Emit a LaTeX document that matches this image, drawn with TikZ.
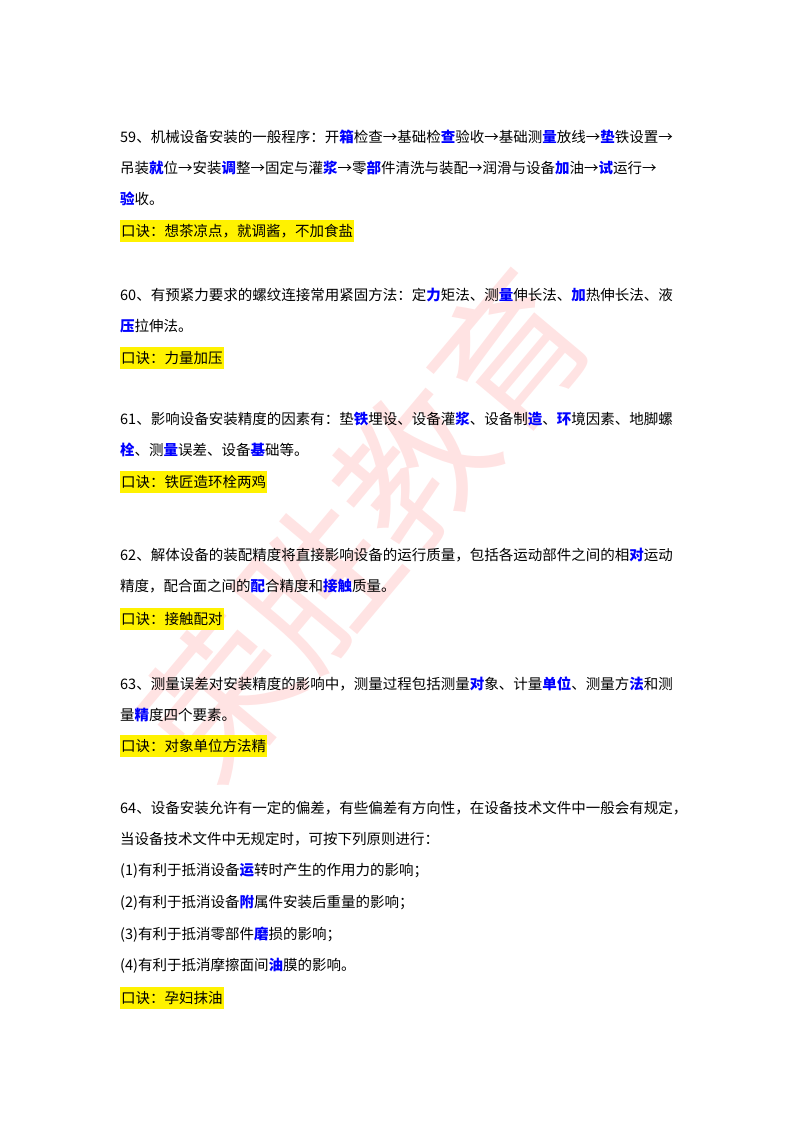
\documentclass[tikz,border=0pt]{standalone}
\usepackage{fontspec}
\setmainfont{Noto Sans CJK SC}
\newcommand{\kw}[1]{\textcolor{blue}{\bfseries #1}}
\tikzset{ln/.style={anchor=west,inner sep=0pt,font=\fontsize{14.5pt}{16pt}\selectfont},
 kj/.style={ln,fill=yellow,inner xsep=1pt,inner ysep=4pt}}
\begin{document}
\begin{tikzpicture}[x=1pt,y=-1pt]
\useasboundingbox[fill=white] (0,0) rectangle (800,1132);
\node[rotate=50,text=red!60,opacity=0.18,font=\fontsize{150pt}{150pt}\selectfont] (wm) at (365,525) {荣胜教育};
\node[ln] (a1) at (120,137) {59、机械设备安装的一般程序：开\kw{箱}检查→基础检\kw{查}验收→基础测\kw{量}放线→\kw{垫}铁设置→};
\node[ln] (a2) at (120,168) {吊装\kw{就}位→安装\kw{调}整→固定与灌\kw{浆}→零\kw{部}件清洗与装配→润滑与设备\kw{加}油→\kw{试}运行→};
\node[ln] (a3) at (120,199) {\kw{验}收。};
\node[kj] (a4) at (120,231) {口诀：想茶凉点，就调酱，不加食盐};
\node[ln] (b1) at (120,295) {60、有预紧力要求的螺纹连接常用紧固方法：定\kw{力}矩法、测\kw{量}伸长法、\kw{加}热伸长法、液};
\node[ln] (b2) at (120,326) {\kw{压}拉伸法。};
\node[kj] (b3) at (120,358) {口诀：力量加压};
\node[ln] (c1) at (120,419) {61、影响设备安装精度的因素有：垫\kw{铁}埋设、设备灌\kw{浆}、设备制\kw{造}、\kw{环}境因素、地脚螺};
\node[ln] (c2) at (120,450) {\kw{栓}、测\kw{量}误差、设备\kw{基}础等。};
\node[kj] (c3) at (120,482) {口诀：铁匠造环栓两鸡};
\node[ln] (d1) at (120,555) {62、解体设备的装配精度将直接影响设备的运行质量，包括各运动部件之间的相\kw{对}运动};
\node[ln] (d2) at (120,586) {精度，配合面之间的\kw{配}合精度和\kw{接触}质量。};
\node[kj] (d3) at (120,619) {口诀：接触配对};
\node[ln] (e1) at (120,684) {63、测量误差对安装精度的影响中，测量过程包括测量\kw{对}象、计量\kw{单位}、测量方\kw{法}和测};
\node[ln] (e2) at (120,715) {量\kw{精}度四个要素。};
\node[kj] (e3) at (120,746) {口诀：对象单位方法精};
\node[ln] (f1) at (120,808) {64、设备安装允许有一定的偏差，有些偏差有方向性，在设备技术文件中一般会有规定，};
\node[ln] (f2) at (120,839) {当设备技术文件中无规定时，可按下列原则进行：};
\node[ln] (f3) at (120,871) {(1)有利于抵消设备\kw{运}转时产生的作用力的影响；};
\node[ln] (f4) at (120,903) {(2)有利于抵消设备\kw{附}属件安装后重量的影响；};
\node[ln] (f5) at (120,935) {(3)有利于抵消零部件\kw{磨}损的影响；};
\node[ln] (f6) at (120,966) {(4)有利于抵消摩擦面间\kw{油}膜的影响。};
\node[kj] (f7) at (120,998) {口诀：孕妇抹油};
\end{tikzpicture}
\end{document}
